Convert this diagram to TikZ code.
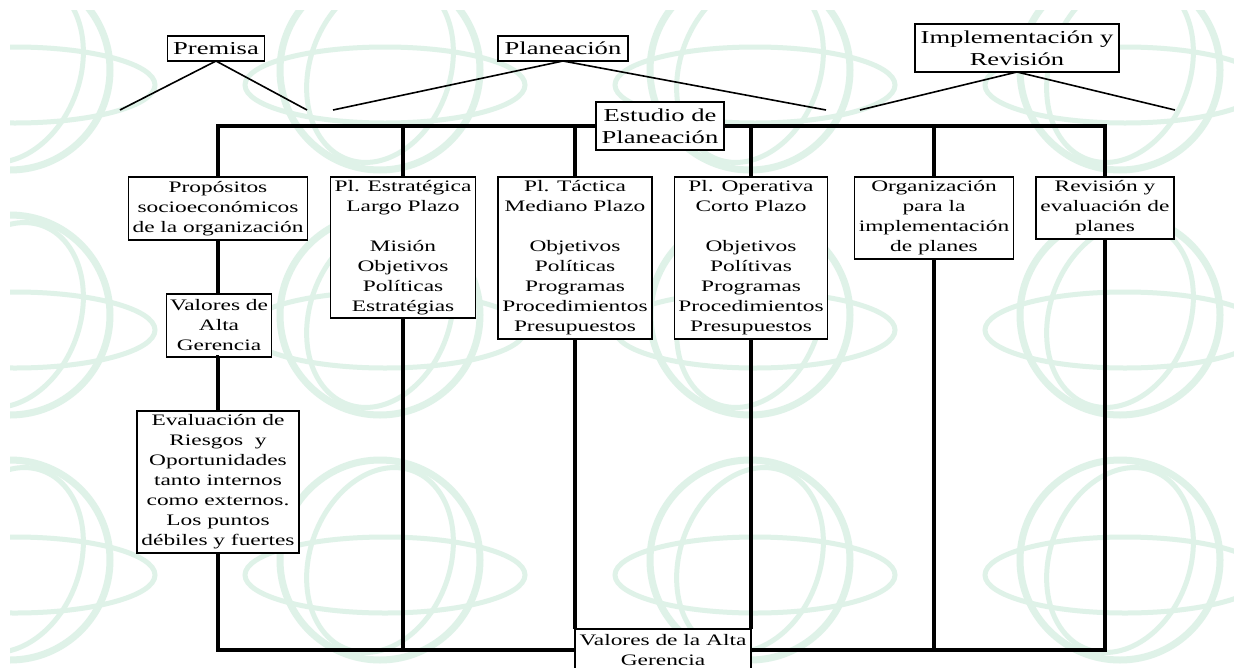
\documentclass[tikz,border=0pt]{standalone}
\usepackage{fontspec}
\setmainfont{Liberation Serif}[FakeStretch=1.46]
\definecolor{globe}{RGB}{223,242,232}
\newcommand\diagbody{\fontsize{16}{20}\selectfont}
\newcommand\diagtitle{\fontsize{18.2}{22}\selectfont}
\tikzset{
  box/.style={draw, line width=1.5pt, fill=white, align=center,
    inner sep=0pt, outer sep=0pt, font=\diagbody},
  title/.style={box, font=\diagtitle},
  frame/.style={line width=3.4pt},
  spoke/.style={line width=1.6pt},
  globeline/.style={draw=globe, line width=7pt}
}
\begin{document}
\begin{tikzpicture}[x=1pt, y=-1pt]
\useasboundingbox (0,0) rectangle (1234,667);
\fill[white] (0,0) rectangle (1234,667);

% tiled globe watermark
\begin{scope}
  \clip (10,10) rectangle (1234,667);
  \foreach \gx in {10,380,750,1120} {
    \foreach \gy in {70,315,560} {
      \draw[globeline] (\gx,\gy) circle[radius=100pt];
      \draw[globeline, line width=5pt, rotate around={-20:(\gx,\gy)}]
        (\gx,\gy) ellipse[x radius=70pt, y radius=95pt];
      \draw[globeline, line width=5pt] (\gx+5,\gy+15) ellipse[x radius=140pt, y radius=38pt];
    }
  }
\end{scope}

% headings
\node[title, minimum width=97pt, minimum height=25pt] (premisa) at (216,48.5) {Premisa};
\node[title, minimum width=130pt, minimum height=25pt] (planeacion) at (563,48.5) {Planeación};
\node[title, minimum width=204pt, minimum height=48pt] (implem) at (1017,48) {Implementación y\\Revisión};
\node[title, minimum width=128pt, minimum height=48pt] (estudio) at (660,126) {Estudio de\\Planeación};

% column boxes
\node[box, minimum width=179pt, minimum height=63pt] (propositos) at (218,208.5)
  {Propósitos\\socioeconómicos\\de la organización};
\node[box, minimum width=145pt, minimum height=141pt] (estrategica) at (403,247.5)
  {Pl. Estratégica\\Largo Plazo\\[20pt]Misión\\Objetivos\\Políticas\\Estratégias};
\node[box, minimum width=154pt, minimum height=162pt] (tactica) at (575,258)
  {Pl. Táctica\\Mediano Plazo\\[20pt]Objetivos\\Políticas\\Programas\\Procedimientos\\Presupuestos};
\node[box, minimum width=153pt, minimum height=162pt] (operativa) at (751,258)
  {Pl. Operativa\\Corto Plazo\\[20pt]Objetivos\\Polítivas\\Programas\\Procedimientos\\Presupuestos};
\node[box, minimum width=159pt, minimum height=82pt] (organizacion) at (934,218)
  {Organización\\para la\\implementación\\de planes};
\node[box, minimum width=138pt, minimum height=62pt] (revision) at (1105,208)
  {Revisión y\\evaluación de\\planes};
\node[box, minimum width=105pt, minimum height=63pt] (valoresA) at (219,325.5)
  {Valores de\\Alta\\Gerencia};
\node[box, minimum width=162pt, minimum height=142pt] (evaluacion) at (218,482)
  {Evaluación de\\Riesgos~ y\\Oportunidades\\tanto internos\\como externos.\\Los puntos\\débiles y fuertes};
\node[box, minimum width=176pt, minimum height=42pt] (valoresB) at (663,650)
  {Valores de la Alta\\Gerencia};

% free ends of the heading spokes
\coordinate (pL) at (120,110);
\coordinate (pR) at (307,110);
\coordinate (qL) at (333,110);
\coordinate (qR) at (826,110);
\coordinate (rL) at (860,110);
\coordinate (rR) at (1175,110);

\draw[spoke] (pL) -- (premisa.south) -- (pR);
\draw[spoke] (qL) -- (planeacion.south) -- (qR);
\draw[spoke] (rL) -- (implem.south) -- (rR);

% outer frame corners
\coordinate (tl) at (218,126);
\coordinate (tr) at (1105,126);
\coordinate (bl) at (218,650);
\coordinate (br) at (1105,650);

\draw[frame] (propositos.north) -- (tl) -- (estudio.west);
\draw[frame] (estudio.east) -- (tr) -- (revision.north);
\draw[frame] (revision.south) -- (br) -- (valoresB.east);
\draw[frame] (valoresB.west) -- (bl) -- (evaluacion.south);
\draw[frame] (propositos.south) -- (propositos.south |- valoresA.north);
\draw[frame] (valoresA.south) -- (valoresA.south -| evaluacion.north) -- (evaluacion.north);

\foreach \n in {estrategica,tactica,operativa,organizacion}
  \draw[frame] (\n.north) -- (\n.north |- tl);
\draw[frame] (estrategica.south) -- (estrategica.south |- bl);
\draw[frame] (tactica.south) -- (tactica.south |- valoresB.north);
\draw[frame] (operativa.south) -- (operativa.south |- valoresB.north);
\draw[frame] (organizacion.south) -- (organizacion.south |- bl);
\end{tikzpicture}
\end{document}
